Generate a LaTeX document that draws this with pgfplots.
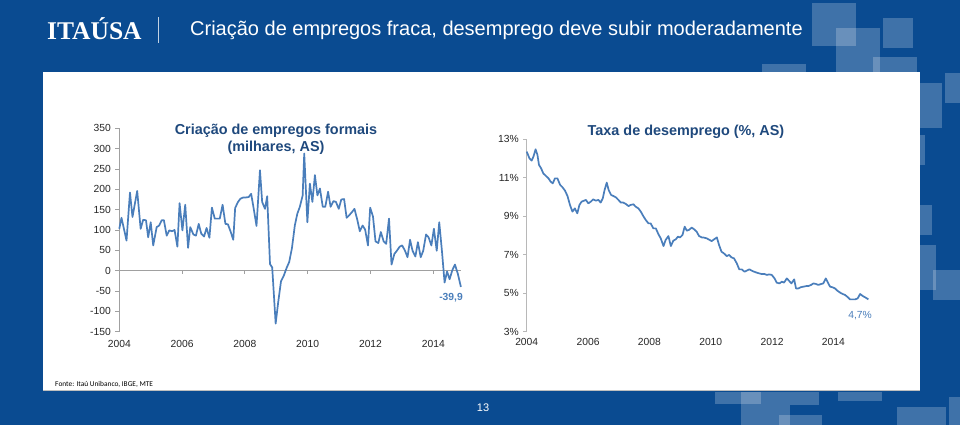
\documentclass[border=0pt]{standalone}
\usepackage{fontspec}
\setmainfont{Liberation Sans}
\newfontfamily\logofont{Liberation Serif}
\newfontfamily\notefont{Carlito}
\usepackage{pgfplots}
\pgfplotsset{compat=1.18}
\definecolor{slideblue}{RGB}{10,75,145}
\definecolor{navy}{RGB}{31,73,125}
\definecolor{lineblue}{RGB}{74,126,187}
\definecolor{axgray}{RGB}{160,160,160}
\pgfplotsset{
  every tick label/.append style={font=\fontsize{10.3}{12}\selectfont, text=black!85},
  /pgf/number format/assume math mode=true,
}
\begin{document}
\begin{tikzpicture}
\begin{scope}[x=1pt,y=1pt]
% slide background
\fill[slideblue] (0,0) rectangle (960,425);
\begin{scope}[fill=white, fill opacity=0.22]
\fill (811.7,422.3) rectangle (855.7,379);
\fill (836,397) rectangle (880,353);
\fill (883,407) rectangle (913,377);
\fill (872.7,368) rectangle (917,340);
\fill (761.7,361) rectangle (806,340);
\fill (920,342) rectangle (941.7,297.3);
\fill (945,352) rectangle (960,322);
\fill (920,290) rectangle (925,260);
\fill (920,220) rectangle (931.7,190);
\fill (920,180) rectangle (936,135);
\fill (933,155) rectangle (960,125);
\fill (715,33) rectangle (761,21);
\fill (741,33) rectangle (790,0);
\fill (790,33) rectangle (819,20);
\fill (779,10) rectangle (822,0);
\fill (838,33) rectangle (882,24);
\fill (897,18) rectangle (946,0);
\fill (949,28) rectangle (960,0);
\end{scope}
% header
\node[anchor=base west, text=white, font=\logofont\bfseries\fontsize{25.5}{28}\selectfont, inner sep=0pt] at (47,385) {ITAÚSA};
\draw[white!75!slideblue, line width=0.8pt] (158,408) -- (158,382);
\node[anchor=base west, text=white, font=\fontsize{20}{24}\selectfont, inner sep=0pt] at (190,389) {Criação de empregos fraca, desemprego deve subir moderadamente};
% white panel
\fill[white] (43,353) rectangle (920,35);
\draw[black!25, line width=0.6pt] (43,35) -- (920,35);
% footer
\node[anchor=base west, text=black, font=\notefont\fontsize{7.4}{9}\selectfont, inner sep=0pt] at (55,38.5) {Fonte: Itaú Unibanco, IBGE, MTE};
\node[text=white, font=\fontsize{11}{13}\selectfont, inner sep=0pt] at (483,17) {13};
\end{scope}

% left chart
\begin{axis}[
  at={(119.3pt,93.3pt)}, anchor=south west,
  scale only axis, width=341.6pt, height=203.4pt,
  xmin=2004, xmax=2014.88, ymin=-150, ymax=350,
  axis lines*=left,
  x axis line style={draw=none},
  y axis line style={draw=axgray, line width=0.8pt},
  xtick={2004,2006,2008,2010,2012,2014},
  xticklabels={2004,2006,2008,2010,2012,2014},
  xtick style={draw=none},
  ytick={-150,-100,...,350},
  ytick style={draw=axgray, line width=0.8pt},
  tick align=outside, major tick length=4pt,
  yticklabel style={xshift=-1pt},
  xticklabel style={yshift=-1pt},
  clip=false,
]
\draw[axgray, line width=0.8pt] (axis cs:2004,0) -- (axis cs:2014.88,0);
\draw[axgray, line width=0.8pt] (axis cs:2006,0) -- (axis cs:2006,-8.6);
\draw[axgray, line width=0.8pt] (axis cs:2008,0) -- (axis cs:2008,-8.6);
\draw[axgray, line width=0.8pt] (axis cs:2010,0) -- (axis cs:2010,-8.6);
\draw[axgray, line width=0.8pt] (axis cs:2012,0) -- (axis cs:2012,-8.6);
\draw[axgray, line width=0.8pt] (axis cs:2014,0) -- (axis cs:2014,-8.6);
\addplot[lineblue, line width=1.7pt, line join=round] coordinates {
(2004.00,103)(2004.07,130)(2004.23,74)(2004.34,192)(2004.42,132)(2004.57,196)(2004.68,103)(2004.76,125)(2004.85,124)(2004.92,82)(2005.00,119)(2005.08,62)(2005.19,107)(2005.27,111)(2005.35,124)(2005.42,124)(2005.51,86)(2005.59,99)(2005.68,97)(2005.76,100)(2005.85,59)(2005.92,166)(2006.01,99)(2006.10,162)(2006.19,56)(2006.26,107)(2006.36,89)(2006.44,86)(2006.53,115)(2006.61,91)(2006.70,84)(2006.78,105)(2006.87,81)(2006.95,155)(2007.04,128)(2007.11,128)(2007.20,128)(2007.29,162)(2007.38,115)(2007.46,114)(2007.55,95)(2007.63,76)(2007.69,154)(2007.78,169)(2007.86,177)(2007.95,180)(2008.03,180)(2008.12,181)(2008.20,189)(2008.29,148)(2008.37,110)(2008.48,247)(2008.55,169)(2008.64,152)(2008.71,183)(2008.80,16)(2008.87,8)(2008.98,-130)(2009.06,-78)(2009.15,-26)(2009.24,-12)(2009.33,7)(2009.41,21)(2009.50,56)(2009.59,111)(2009.67,140)(2009.75,157)(2009.84,185)(2009.89,288)(2009.99,119)(2010.07,214)(2010.15,169)(2010.23,235)(2010.31,185)(2010.39,202)(2010.48,157)(2010.56,157)(2010.65,194)(2010.73,157)(2010.82,171)(2010.90,169)(2010.99,152)(2011.07,175)(2011.16,176)(2011.24,130)(2011.32,136)(2011.41,144)(2011.49,152)(2011.58,125)(2011.66,97)(2011.75,111)(2011.83,101)(2011.92,62)(2011.99,155)(2012.08,133)(2012.16,72)(2012.25,68)(2012.33,95)(2012.42,72)(2012.50,66)(2012.59,128)(2012.67,15)(2012.76,41)(2012.84,49)(2012.93,59)(2013.01,62)(2013.10,49)(2013.18,33)(2013.26,76)(2013.34,49)(2013.43,35)(2013.51,70)(2013.60,33)(2013.68,49)(2013.77,89)(2013.85,82)(2013.94,62)(2014.02,103)(2014.11,49)(2014.19,119)(2014.28,45)(2014.36,-29)(2014.44,-2)(2014.52,-21)(2014.61,2)(2014.69,15)(2014.78,-7)(2014.88,-39.9)
};
\end{axis}

% right chart
\begin{axis}[
  at={(526.7pt,93.3pt)}, anchor=south west,
  scale only axis, width=342.3pt, height=192.4pt,
  xmin=2004, xmax=2015.16, ymin=3, ymax=13,
  axis lines*=left,
  x axis line style={draw=none},
  y axis line style={draw=black!28, line width=1.5pt},
  xtick={2004,2006,2008,2010,2012,2014},
  xticklabels={2004,2006,2008,2010,2012,2014},
  xtick style={draw=none},
  ytick={3,5,7,9,11,13},
  yticklabels={3\%,5\%,7\%,9\%,11\%,13\%},
  ytick style={draw=black!28, line width=0.8pt},
  tick align=outside, major tick length=3.5pt,
  yticklabel style={xshift=-1pt},
  clip=false,
]
\addplot[lineblue, line width=1.7pt, line join=round] coordinates {
(2004.00,12.36)(2004.09,12.01)(2004.16,11.89)(2004.22,12.10)(2004.29,12.48)(2004.35,12.19)(2004.40,11.67)(2004.47,11.49)(2004.54,11.23)(2004.63,11.09)(2004.71,10.97)(2004.78,10.80)(2004.85,10.71)(2004.92,10.97)(2005.00,10.97)(2005.09,10.63)(2005.17,10.50)(2005.25,10.33)(2005.33,10.05)(2005.41,9.59)(2005.49,9.24)(2005.57,9.41)(2005.65,9.15)(2005.72,9.59)(2005.79,9.76)(2005.87,9.81)(2005.93,9.85)(2006.01,9.67)(2006.09,9.76)(2006.17,9.88)(2006.25,9.81)(2006.34,9.85)(2006.41,9.71)(2006.48,9.93)(2006.54,10.37)(2006.61,10.75)(2006.67,10.37)(2006.75,10.11)(2006.83,10.05)(2006.91,9.98)(2006.99,9.85)(2007.07,9.71)(2007.15,9.71)(2007.23,9.64)(2007.32,9.53)(2007.39,9.59)(2007.48,9.62)(2007.55,9.50)(2007.64,9.41)(2007.72,9.24)(2007.80,9.01)(2007.88,8.81)(2007.97,8.63)(2008.04,8.63)(2008.13,8.37)(2008.21,8.37)(2008.29,8.08)(2008.37,7.85)(2008.46,7.45)(2008.53,7.77)(2008.62,7.97)(2008.70,7.45)(2008.78,7.73)(2008.86,7.80)(2008.93,7.94)(2009.00,7.90)(2009.08,8.03)(2009.15,8.46)(2009.22,8.25)(2009.29,8.29)(2009.38,8.41)(2009.46,8.32)(2009.54,8.20)(2009.62,7.97)(2009.71,7.90)(2009.78,7.89)(2009.87,7.85)(2009.96,7.77)(2010.03,7.71)(2010.11,7.80)(2010.20,7.90)(2010.27,7.51)(2010.35,7.16)(2010.43,7.07)(2010.52,6.93)(2010.60,6.99)(2010.68,6.86)(2010.76,6.81)(2010.85,6.55)(2010.93,6.24)(2011.01,6.24)(2011.10,6.12)(2011.17,6.17)(2011.26,6.24)(2011.34,6.17)(2011.41,6.12)(2011.50,6.07)(2011.58,6.03)(2011.66,6.00)(2011.75,6.00)(2011.83,5.95)(2011.91,5.98)(2011.99,5.95)(2012.08,5.77)(2012.15,5.55)(2012.24,5.51)(2012.32,5.60)(2012.39,5.55)(2012.48,5.77)(2012.55,5.65)(2012.63,5.51)(2012.72,5.72)(2012.78,5.25)(2012.86,5.25)(2012.93,5.31)(2013.02,5.34)(2013.11,5.37)(2013.18,5.37)(2013.27,5.43)(2013.35,5.51)(2013.43,5.48)(2013.51,5.43)(2013.60,5.48)(2013.67,5.51)(2013.75,5.77)(2013.82,5.55)(2013.89,5.34)(2013.97,5.31)(2014.05,5.25)(2014.13,5.13)(2014.22,5.03)(2014.30,4.96)(2014.38,4.91)(2014.47,4.79)(2014.54,4.68)(2014.63,4.68)(2014.71,4.68)(2014.79,4.73)(2014.87,4.96)(2014.96,4.85)(2015.03,4.79)(2015.14,4.68)
};
\end{axis}

% chart titles and annotations
\begin{scope}[x=1pt,y=1pt]
\node[align=center, text=navy, font=\bfseries\fontsize{14.4}{17.3}\selectfont] at (276,285.7) {Criação de empregos formais\\(milhares, AS)};
\node[text=navy, font=\bfseries\fontsize{14.4}{17.3}\selectfont] at (686,293.3) {Taxa de desemprego (\%, AS)};
\node[text=lineblue, font=\bfseries\fontsize{10.3}{12}\selectfont] at (451,127) {-39,9};
\node[text=lineblue, font=\fontsize{10.3}{12}\selectfont] at (860,109) {4,7\%};
\end{scope}
\end{tikzpicture}
\end{document}
